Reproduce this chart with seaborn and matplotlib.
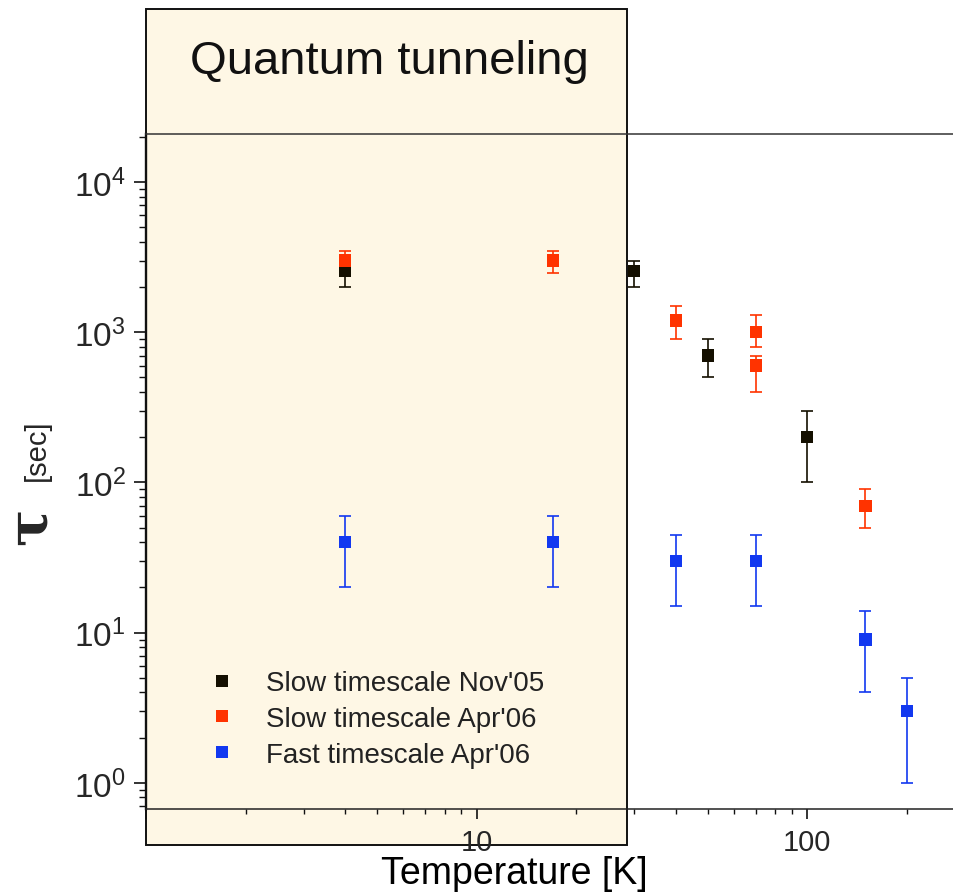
import numpy as np
import pandas as pd
import matplotlib
matplotlib.use("Agg")
import matplotlib.pyplot as plt
import matplotlib.ticker as mticker
from matplotlib.patches import Rectangle
from matplotlib.lines import Line2D
from matplotlib.transforms import blended_transform_factory
import seaborn as sns

# ---------------- data ----------------
series_names = ["Slow timescale Nov'05", "Slow timescale Apr'06", "Fast timescale Apr'06"]
series_colors = ["#140f00", "#ff3300", "#1238f0"]

temp_slow_nov = [4, 30, 50, 100]
tau_slow_nov = [2550, 2550, 700, 200]
lo_slow_nov = [2000, 2000, 500, 100]
hi_slow_nov = [3000, 3000, 900, 300]

temp_slow_apr = [4, 17, 40, 70, 70, 150]
tau_slow_apr = [3000, 3000, 1200, 1000, 600, 70]
lo_slow_apr = [2500, 2500, 900, 800, 400, 50]
hi_slow_apr = [3500, 3500, 1500, 1300, 700, 90]

temp_fast_apr = [4, 17, 40, 70, 150, 200]
tau_fast_apr = [40, 40, 30, 30, 9, 3]
lo_fast_apr = [20, 20, 15, 15, 4, 1]
hi_fast_apr = [60, 60, 45, 45, 14, 5]

x_major_ticks = [1, 10, 100]
x_major_labels = ["", "10", "100"]
tunneling_limit_K = 28.5
region_label = "Quantum tunneling"
x_label = "Temperature [K]"

# ---------------- style ----------------
sns.set_style("ticks")
plt.rcParams["font.family"] = ["Liberation Sans", "DejaVu Sans"]
plt.rcParams["mathtext.default"] = "regular"

fig = plt.figure(figsize=(9.54, 8.95), dpi=100)
ax = fig.add_axes([146 / 954, 85 / 895, 1 - 146 / 954, (810 - 135) / 895])

frames = []
for name, t, v in [(series_names[0], temp_slow_nov, tau_slow_nov),
                   (series_names[1], temp_slow_apr, tau_slow_apr),
                   (series_names[2], temp_fast_apr, tau_fast_apr)]:
    frames.append(pd.DataFrame({"T": t, "tau": v, "series": name}))
df = pd.concat(frames, ignore_index=True)

ax.set_xscale("log")
ax.set_yscale("log")

# shaded quantum-tunneling region (extends above and below the axes)
trans = blended_transform_factory(ax.transData, fig.transFigure)
rect = Rectangle((1, 49 / 895), tunneling_limit_K - 1, (846 - 10) / 895,
                 transform=trans, facecolor="#fef7e5", edgecolor="#111111",
                 linewidth=1.4, clip_on=False, zorder=0.5)
ax.add_patch(rect)

# error bars
for t, v, lo, hi, c in [(temp_slow_nov, tau_slow_nov, lo_slow_nov, hi_slow_nov, series_colors[0]),
                        (temp_slow_apr, tau_slow_apr, lo_slow_apr, hi_slow_apr, series_colors[1]),
                        (temp_fast_apr, tau_fast_apr, lo_fast_apr, hi_fast_apr, series_colors[2])]:
    v = np.array(v, float)
    yerr = [v - np.array(lo), np.array(hi) - v]
    ax.errorbar(t, v, yerr=yerr, fmt="none", ecolor=c, elinewidth=1.2,
                capsize=4.5, capthick=1.2, zorder=2)

sns.scatterplot(data=df, x="T", y="tau", hue="series", hue_order=series_names,
                palette=series_colors, marker="s", s=78, linewidth=0,
                ax=ax, legend=False, zorder=3)

ax.set_xlim(1, 278)
ax.set_ylim(0.67, 2.09e4)

# ticks
ax.xaxis.set_major_locator(mticker.FixedLocator(x_major_ticks))
ax.xaxis.set_major_formatter(mticker.FixedFormatter(x_major_labels))
ax.xaxis.set_minor_locator(mticker.LogLocator(base=10, subs=np.arange(2, 10)))
ax.xaxis.set_minor_formatter(mticker.NullFormatter())
ax.yaxis.set_major_locator(mticker.LogLocator(base=10, numticks=10))
ax.yaxis.set_minor_locator(mticker.LogLocator(base=10, subs=np.arange(2, 10), numticks=20))
ax.yaxis.set_minor_formatter(mticker.NullFormatter())

ax.tick_params(axis="y", which="major", length=8.6, width=1.2, direction="out",
               labelsize=24, pad=6, color="#111111")
ax.tick_params(axis="y", which="minor", length=5, width=1.0, direction="out", color="#111111")
ax.tick_params(axis="x", which="major", length=7, width=1.2, direction="out",
               labelsize=21, pad=7, color="#111111")
ax.tick_params(axis="x", which="minor", length=3.6, width=1.0, direction="out", color="#111111")

ax.set_xlabel("")
ax.set_ylabel("")

ax.spines["right"].set_visible(False)
ax.spines["left"].set_linewidth(1.7)
ax.spines["left"].set_color("#111111")
ax.spines["top"].set_linewidth(1.1)
ax.spines["top"].set_color("#333333")
ax.spines["bottom"].set_linewidth(1.1)
ax.spines["bottom"].set_color("#222222")

# legend
handles = [Line2D([], [], linestyle="none", marker="s", markersize=8.5,
                  markerfacecolor=c, markeredgewidth=0) for c in series_colors]
leg = ax.legend(handles, series_names, loc="center left",
                bbox_to_anchor=(194 / 954, (895 - 720) / 895),
                bbox_transform=fig.transFigure, frameon=False, fontsize=20,
                handletextpad=0.6, labelspacing=0.35, borderpad=0, borderaxespad=0)
for txt in leg.get_texts():
    txt.set_color("#222222")

# texts
fig.text(389 / 954, (895 - 62) / 895, region_label, fontsize=34,
         ha="center", va="center", color="#111111")
fig.text(514 / 954, (895 - 874) / 895, x_label, fontsize=27,
         ha="center", va="center", color="#000000")
fig.text(31 / 954, (895 - 526) / 895, "τ", fontsize=40, rotation=90,
         ha="center", va="center", family=["DejaVu Serif"], fontweight="bold")
fig.text(37 / 954, (895 - 450) / 895, "[sec]", fontsize=21, rotation=90,
         ha="center", va="center")

fig.savefig("out.png", dpi=100)
